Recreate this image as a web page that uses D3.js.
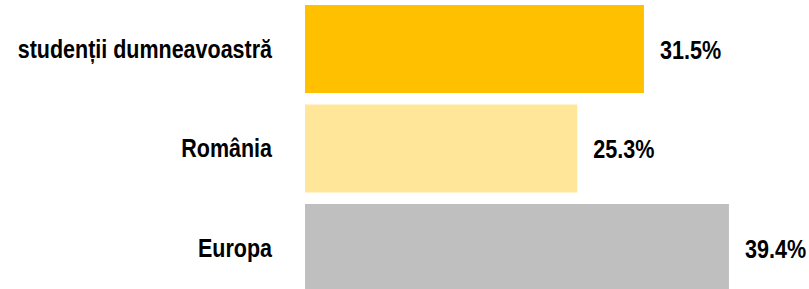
<!DOCTYPE html>
<html>
<head>
<meta charset="utf-8">
<script src="https://cdn.jsdelivr.net/npm/d3@7"></script>
<style>
  html, body { margin: 0; padding: 0; background: #fff; }
  svg { display: block; }
</style>
</head>
<body>
<div id="chart"></div>
<script>
// data
var categories = ['studenții dumneavoastră', 'România', 'Europa'];
var values = [31.5, 25.3, 39.4];
var barColors = ['#FFC000', '#FFE699', '#BFBFBF'];

var w = 809, h = 289;
var x0 = 305;

var data = categories.map(function (c, i) {
    return { name: c, value: values[i], color: barColors[i] };
});

var svg = d3.select('#chart')
    .append('svg')
    .attr('width', w).attr('height', h);

var x = d3.scaleLinear()
    .domain([0, 10])
    .range([x0, x0 + 107.6]);

var y = d3.scaleBand()
    .domain(categories)
    .range([5, 292])
    .paddingInner(0.1156)
    .paddingOuter(0);

svg.selectAll('rect.bar')
    .data(data)
    .enter()
    .append('rect')
    .attr('class', 'bar')
    .attr('x', x(0))
    .attr('y', function (d) { return y(d.name); })
    .attr('width', function (d) { return x(d.value) - x(0); })
    .attr('height', y.bandwidth())
    .attr('fill', function (d) { return d.color; });

// category labels - narrow bold look, squeezed horizontally
svg.selectAll('text.cat')
    .data(data)
    .enter()
    .append('text')
    .attr('class', 'cat')
    .attr('transform', function (d) {
        return 'translate(272,' + (y(d.name) + y.bandwidth() / 2) + ') scale(0.86,1)';
    })
    .attr('dy', '0.35em')
    .attr('text-anchor', 'end')
    .style('font-family', '"Liberation Sans", Arial, sans-serif')
    .style('font-weight', 'bold')
    .style('font-size', '25px')
    .style('fill', '#000')
    .text(function (d) { return d.name; });

// value labels
svg.selectAll('text.val')
    .data(data)
    .enter()
    .append('text')
    .attr('class', 'val')
    .attr('transform', function (d) {
        return 'translate(' + (x(d.value) + 16) + ',' + (y(d.name) + y.bandwidth() / 2) + ') scale(0.83,1)';
    })
    .attr('dy', '0.38em')
    .style('font-family', '"Liberation Sans", Arial, sans-serif')
    .style('font-weight', 'bold')
    .style('font-size', '26px')
    .style('fill', '#000')
    .text(function (d) { return d.value.toFixed(1) + '%'; });
</script>
</body>
</html>
